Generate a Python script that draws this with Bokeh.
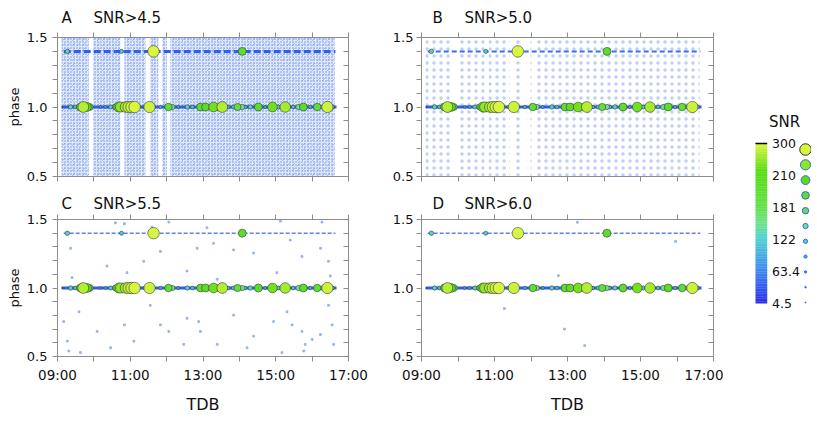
import numpy as np
from bokeh.plotting import figure
from bokeh.layouts import row, column
from bokeh.models import Range1d, LinearAxis, FixedTicker
from bokeh.transform import linear_cmap
from bokeh.core.properties import value
from bokeh.embed import file_html
from bokeh.resources import INLINE

# ---------------- data ----------------
# strong detections (time in hours TDB, phase, SNR)
det_time = [9.13, 9.36, 9.49, 9.63, 9.71, 9.81, 9.88, 10.18, 10.32, 10.46, 10.59, 10.68, 10.73,
            10.79, 10.87, 10.95, 11.03, 11.12, 11.23, 11.36, 11.53, 11.64, 11.83, 12.05, 12.16,
            12.32, 12.57, 12.71, 12.93, 13.07, 13.29, 13.42, 13.53, 13.70, 13.84, 13.95, 14.08,
            14.16, 14.30, 14.52, 14.71, 14.91, 15.07, 15.26, 15.48, 15.62, 15.76, 15.95, 16.14,
            16.28, 16.42, 16.55,
            9.27, 10.76, 11.64, 14.08]
det_phase = [1.0, 1.0, 1.0, 1.0, 1.0, 1.0, 1.0, 1.0, 1.0, 1.0, 1.0, 1.0, 1.0,
             1.0, 1.0, 1.0, 1.0, 1.0, 1.0, 1.0, 1.0, 1.0, 1.0, 1.0, 1.0,
             1.0, 1.0, 1.0, 1.0, 1.0, 1.0, 1.0, 1.0, 1.0, 1.0, 1.0, 1.0,
             1.0, 1.0, 1.0, 1.0, 1.0, 1.0, 1.0, 1.0, 1.0, 1.0, 1.0, 1.0,
             1.0, 1.0, 1.0,
             1.40, 1.40, 1.40, 1.40]
det_snr = [20, 130, 110, 220, 285, 240, 200, 80, 90, 120, 170, 260, 270,
           250, 280, 290, 295, 300, 100, 70, 295, 60, 100, 210, 150,
           90, 130, 110, 215, 220, 260, 190, 285, 100, 120, 200, 150,
           110, 130, 220, 90, 260, 120, 280, 110, 150, 220, 100, 210,
           120, 295, 130,
           130, 120, 300, 220]

# continuous weak-detection tracks
track_phase = [1.0, 1.4]
track_start = [9.12, 9.17]
track_end = [16.67, 16.64]

# observation intervals (background noise coverage)
obs_start = [9.11, 9.98, 10.84, 11.54, 11.88, 12.10]
obs_end = [9.86, 10.73, 11.42, 11.77, 12.01, 16.62]

# sparse noise, panel C (SNR>5.5)
noise_c_time = [10.59, 10.84, 12.06, 13.11, 15.13, 16.27, 11.60,
                9.36, 11.37, 11.83, 12.84, 13.29, 13.84, 14.39, 15.40, 15.72, 16.23, 16.45,
                10.36, 10.91, 12.56, 13.39, 15.03, 9.40, 16.50, 11.65,
                9.17, 9.27, 9.31, 9.59, 9.63, 10.09, 10.46, 11.10, 11.55, 11.83, 12.06, 12.56,
                12.88, 12.93, 13.39, 13.84, 14.39, 14.94, 15.31, 15.45, 15.72, 15.81, 16.00,
                16.23, 16.55, 16.45, 14.21, 15.17, 15.77, 10.84, 12.47, 16.59]
noise_c_phase = [1.476, 1.469, 1.481, 1.44, 1.488, 1.481, 1.445,
                 1.29, 1.195, 1.267, 1.29, 1.326, 1.278, 1.255, 1.35, 1.23, 1.29, 1.195,
                 1.16, 1.112, 1.124, 1.064, 1.112, 1.076, 1.088, 1.374,
                 0.755, 0.612, 0.54, 0.826, 0.529, 0.683, 0.564, 0.612, 0.874, 0.731, 0.683, 0.779,
                 0.755, 0.683, 0.588, 0.802, 0.648, 0.755, 0.826, 0.731, 0.683, 0.588, 0.624,
                 0.66, 0.731, 0.874, 0.564, 0.529, 0.54, 0.731, 0.588, 0.588]

# sparse noise, panel D (SNR>6.0)
noise_d_time = [13.27, 15.96, 12.75, 11.27, 12.92, 13.47]
noise_d_phase = [1.48, 1.34, 1.09, 0.85, 0.70, 0.58]

panel_letters = ["A", "B", "C", "D"]
panel_titles = ["SNR>4.5", "SNR>5.0", "SNR>5.5", "SNR>6.0"]

x_major = [9, 11, 13, 15, 17]
x_minor = [10, 12, 14, 16]
x_labels = ["09:00", "11:00", "13:00", "15:00", "17:00"]
y_major = [0.5, 1.0, 1.5]
y_minor = [0.6, 0.7, 0.8, 0.9, 1.1, 1.2, 1.3, 1.4]
y_labels = ["0.5", "1.0", "1.5"]

SNR_LOW, SNR_HIGH = 4.5, 300.0
cbar_ticks = [4.5, 63.4, 122, 181, 240, 300]
cbar_labels = ["4.5", "63.4", "122", "181", "210", "300"]
legend_snr = [300, 270.45, 240.9, 211.35, 181.8, 152.25, 122.7, 93.15, 63.6, 34.05, 4.5]

# ---------------- style ----------------
FONT = "DejaVu Sans"
GRAY = "#8c8c8c"
TRACK = "#2f5fe6"

# layout constants (px); the page itself has no margin, so an 8px offset is built in
W_LEFT, W_RIGHT = 388, 335
BL_LEFT, BR_LEFT, BL_RIGHT, BR_RIGHT = 57, 40, 33, 10
STRIP1_H, STRIP2_H = 31, 27
P1_H, P2_H = 155, 203
P1_BB, P2_BB = 10, 57
TOP_B = 6


def build_palette(n=256):
    anchors = [(0.0, "#2a2ee8"), (0.2, "#3f86ef"), (0.4, "#4dcfd6"), (0.5, "#6ee28f"),
               (0.6, "#66e04a"), (0.83, "#55dd10"), (1.0, "#d8f540")]
    pos = [a[0] for a in anchors]
    rgb = np.array([[int(c[i:i + 2], 16) for i in (1, 3, 5)] for _, c in anchors], dtype=float)
    out = []
    for t in np.linspace(0, 1, n):
        r = np.interp(t, pos, rgb[:, 0]); g = np.interp(t, pos, rgb[:, 1]); b = np.interp(t, pos, rgb[:, 2])
        out.append("#%02x%02x%02x" % (int(round(r)), int(round(g)), int(round(b))))
    return out


PALETTE = build_palette()


def snr_size(s):
    s = np.asarray(s, dtype=float)
    return 1.0 + 10.5 * np.clip((s - SNR_LOW) / (SNR_HIGH - SNR_LOW), 0, 1) ** 1.3


def make_axis(ticks, minor, labels, tick_in, tick_out, axis_label=None, font_size="13px", standoff=3,
              label_standoff=4, label_size="13px"):
    ax = LinearAxis(ticker=FixedTicker(ticks=ticks, minor_ticks=minor))
    if labels is None:
        ax.major_label_overrides = {t: "" for t in ticks}
        ax.major_label_text_font_size = "0px"
        ax.major_label_standoff = 0
    else:
        ax.major_label_overrides = {t: l for t, l in zip(ticks, labels)}
        ax.major_label_text_font_size = font_size
        ax.major_label_standoff = standoff
    ax.major_label_text_font = FONT
    ax.major_label_text_color = "#111111"
    ax.major_tick_in = tick_in
    ax.major_tick_out = tick_out
    ax.minor_tick_in = tick_in
    ax.minor_tick_out = tick_out
    ax.axis_line_color = GRAY
    ax.major_tick_line_color = GRAY
    ax.minor_tick_line_color = GRAY
    if axis_label:
        ax.axis_label = axis_label
        ax.axis_label_text_font = FONT
        ax.axis_label_text_font_size = label_size
        ax.axis_label_text_font_style = "normal"
        ax.axis_label_text_color = "#111111"
        ax.axis_label_standoff = label_standoff
    return ax


def make_panel(k, width, height, bl, br, bt, bb):
    p = figure(width=width, height=height, x_range=Range1d(9, 17), y_range=Range1d(0.5, 1.5),
               output_backend="svg", toolbar_location=None, x_axis_location=None, y_axis_location=None,
               min_border_left=bl, min_border_right=br, min_border_top=bt, min_border_bottom=bb)
    p.grid.visible = False
    p.outline_line_color = GRAY
    p.background_fill_color = "white"
    p.border_fill_color = "white"

    left_col = k in (0, 2)
    bottom_row = k in (2, 3)
    p.add_layout(make_axis(y_major, y_minor, y_labels, 0, 5, "phase" if left_col else None,
                           font_size="13px", standoff=5 if left_col else 3,
                           label_standoff=2, label_size="13px"), "left")
    p.add_layout(make_axis(y_major, y_minor, None, 5, 0), "right")
    p.add_layout(make_axis(x_major, x_minor, x_labels if bottom_row else None, 0, 5,
                           "TDB" if bottom_row else None, font_size="13.5px", standoff=5,
                           label_standoff=9, label_size="16px"), "below")
    p.add_layout(make_axis(x_major, x_minor, None, 0, 5), "above")

    # background noise
    if k == 0:
        p.quad(left=obs_start, right=obs_end, bottom=0.5, top=1.5, fill_color="#c6d6f7", fill_alpha=0.55,
               line_color=None, hatch_pattern=".", hatch_color="#3366e3", hatch_scale=3,
               hatch_weight=0.9, hatch_alpha=0.7)
        p.quad(left=obs_start, right=obs_end, bottom=0.5, top=1.5, fill_color=None,
               line_color=None, hatch_pattern=",", hatch_color="#3a6ce6", hatch_scale=5,
               hatch_weight=0.8, hatch_alpha=0.45)
    elif k == 1:
        p.quad(left=obs_start, right=obs_end, bottom=0.5, top=1.5, fill_color=None,
               line_color=None, hatch_pattern=".", hatch_color="#8fb0ee", hatch_scale=7,
               hatch_weight=0.6, hatch_alpha=0.6)
    elif k == 2:
        p.scatter(noise_c_time, noise_c_phase, marker="square", size=1.8, color="#86a9ec", alpha=0.75)
    else:
        p.scatter(noise_d_time, noise_d_phase, marker="square", size=1.8, color="#86a9ec", alpha=0.75)

    # tracks
    p.segment(x0=[track_start[0]], y0=[track_phase[0]], x1=[track_end[0]], y1=[track_phase[0]],
              line_color=TRACK, line_width=3)
    if k == 0:
        p.segment(x0=[track_start[1]], y0=[track_phase[1]], x1=[track_end[1]], y1=[track_phase[1]],
                  line_color=TRACK, line_width=3, line_dash="7 3")
    elif k == 1:
        p.segment(x0=[track_start[1]], y0=[track_phase[1]], x1=[track_end[1]], y1=[track_phase[1]],
                  line_color="#3d6ee6", line_width=2, line_dash="5 3")
    else:
        p.segment(x0=[track_start[1]], y0=[track_phase[1]], x1=[track_end[1]], y1=[track_phase[1]],
                  line_color="#5a86ea", line_width=1.5, line_dash="4 2")

    order = np.argsort(det_snr, kind="stable")
    src = dict(x=[det_time[i] for i in order], y=[det_phase[i] for i in order],
               snr=[det_snr[i] for i in order])
    src["size"] = list(snr_size(src["snr"]))
    p.scatter("x", "y", size="size", source=src,
              fill_color=linear_cmap("snr", PALETTE, SNR_LOW, SNR_HIGH),
              line_color="#3a3a3a", line_alpha=0.75, line_width=0.8)
    return p


def make_strip(height, letters, titles, title_y):
    w = W_LEFT + W_RIGHT
    s = figure(width=w, height=height, x_range=Range1d(0, w), y_range=Range1d(0, height),
               output_backend="svg", toolbar_location=None, x_axis_location=None, y_axis_location=None,
               min_border=0)
    s.grid.visible = False
    s.outline_line_color = None
    letter_x = [BL_LEFT + 4, W_LEFT + BL_RIGHT + 11]
    title_x = [BL_LEFT + 36, W_LEFT + BL_RIGHT + 43]
    s.text(x=letter_x, y=[title_y, title_y], text=letters, text_font=value(FONT), text_font_size="15px",
           text_baseline="middle", text_align="left", text_color="#111111")
    s.text(x=title_x, y=[title_y, title_y], text=titles, text_font=value(FONT), text_font_size="15px",
           text_baseline="middle", text_align="left", text_color="#111111")
    return s


pA = make_panel(0, W_LEFT, P1_H, BL_LEFT, BR_LEFT, TOP_B, P1_BB)
pB = make_panel(1, W_RIGHT, P1_H, BL_RIGHT, BR_RIGHT, TOP_B, P1_BB)
pC = make_panel(2, W_LEFT, P2_H, BL_LEFT, BR_LEFT, TOP_B, P2_BB)
pD = make_panel(3, W_RIGHT, P2_H, BL_RIGHT, BR_RIGHT, TOP_B, P2_BB)
strip1 = make_strip(STRIP1_H, panel_letters[0:2], panel_titles[0:2], 13.5)
strip2 = make_strip(STRIP2_H, panel_letters[2:4], panel_titles[2:4], 10)

# ---------------- SNR legend ----------------
LEG_W = 88
LEG_H = STRIP1_H + P1_H + STRIP2_H + P2_H
px_per_unit = 160.0 / (SNR_HIGH - SNR_LOW)
y_top = SNR_HIGH + 143.0 / px_per_unit
y_bot = y_top - LEG_H / px_per_unit
leg = figure(width=LEG_W, height=LEG_H, x_range=Range1d(0, LEG_W), y_range=Range1d(y_bot, y_top),
             output_backend="svg", toolbar_location=None, x_axis_location=None, y_axis_location=None,
             min_border=0)
leg.grid.visible = False
leg.outline_line_color = None

edges = np.linspace(SNR_LOW, SNR_HIGH, 97)
mids = (edges[:-1] + edges[1:]) / 2
leg.quad(left=32, right=43.7, bottom="bottom", top="top",
         fill_color=linear_cmap("mid", PALETTE, SNR_LOW, SNR_HIGH),
         line_color=None, source=dict(bottom=edges[:-1], top=edges[1:] + 0.5, mid=mids))
leg.segment(x0=[32], y0=[SNR_HIGH], x1=[43.7], y1=[SNR_HIGH], line_color="black", line_width=1.5)
leg.text(x=48.5, y=cbar_ticks, text=cbar_labels, text_font=value(FONT), text_font_size="12.5px",
         text_baseline="middle", text_align="left", text_color="#111111")
leg.text(x=[61], y=[SNR_HIGH + 22 / px_per_unit], text=["SNR"], text_font=value(FONT),
         text_font_size="15px", text_baseline="middle", text_align="center", text_color="#111111")

lsnr = np.array(legend_snr)
leg_y = 6.4 + (lsnr - SNR_LOW) * (282.5 / (SNR_HIGH - SNR_LOW))
leg_line = ["#333333"] + ["#3a66e0"] * (len(lsnr) - 1)
leg.scatter(x=82, y="y", size="size", source=dict(y=leg_y, size=snr_size(lsnr), snr=lsnr, lc=leg_line),
            fill_color=linear_cmap("snr", PALETTE, SNR_LOW, SNR_HIGH), line_color="lc", line_width=1)

layout = row(column(strip1, row(pA, pB), strip2, row(pC, pD)), leg)
open("out.html", "w").write(file_html(layout, INLINE))
